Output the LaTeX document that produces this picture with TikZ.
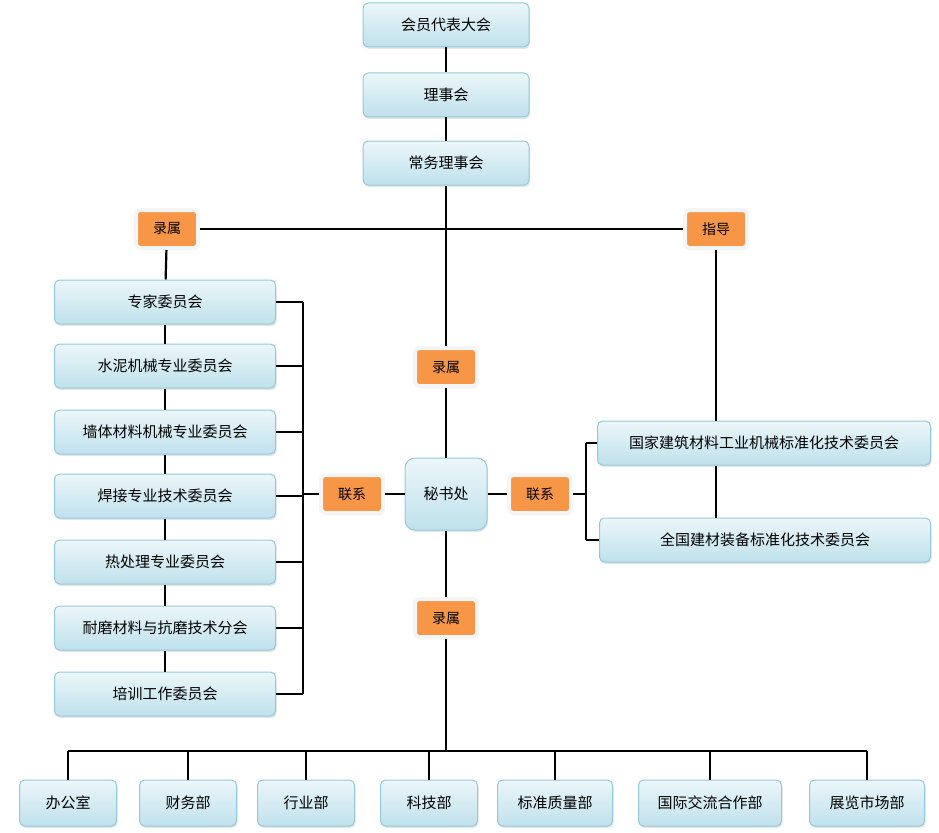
\documentclass[tikz,border=0pt]{standalone}
\usepackage{fontspec}
\setmainfont{Noto Sans CJK SC}
\usetikzlibrary{shadows}
\definecolor{boxedge}{HTML}{93C9DA}
\definecolor{boxfill}{HTML}{BFE1EC}
\definecolor{tagfill}{HTML}{F79646}
\tikzset{
  unit/.style={draw=boxedge, line width=1pt, rounded corners=5pt, top color=white!70!boxfill, bottom color=boxfill,
    minimum height=44, inner sep=0, font=\fontsize{15}{17}\selectfont,
    drop shadow={shadow xshift=1pt, shadow yshift=-2pt, fill=gray!40}},
  tag/.style={draw=gray!8, line width=4pt, rounded corners=4pt, fill=tagfill,
    minimum width=62, minimum height=38, inner sep=0, font=\fontsize{14}{16}\selectfont,
    drop shadow={shadow xshift=1pt, shadow yshift=-2pt, fill=brown!45}},
  link/.style={line width=2.2pt}
}
\begin{document}
\begin{tikzpicture}[x=1pt,y=-1pt]
\useasboundingbox (0,0) rectangle (939,832);
\node (dh) [unit, minimum width=166] at (446,25) {会员代表大会};
\node (lsh) [unit, minimum width=166] at (446,95) {理事会};
\node (cw) [unit, minimum width=166] at (446,163) {常务理事会};
\node (ls1) [tag] at (167,229) {录属};
\node (zd) [tag] at (716,229) {指导};
\node (c1) [unit, minimum width=221] at (165,302) {专家委员会};
\node (c2) [unit, minimum width=221] at (165,366) {水泥机械专业委员会};
\node (c3) [unit, minimum width=221] at (165,432) {墙体材料机械专业委员会};
\node (c4) [unit, minimum width=221] at (165,496) {焊接专业技术委员会};
\node (c5) [unit, minimum width=221] at (165,562) {热处理专业委员会};
\node (c6) [unit, minimum width=221] at (165,628) {耐磨材料与抗磨技术分会};
\node (c7) [unit, minimum width=221] at (165,694) {培训工作委员会};
\node (ls2) [tag] at (446,367) {录属};
\node (msc) [unit, minimum width=82, minimum height=72, rounded corners=10pt] at (446,494) {秘书处};
\node (lx1) [tag] at (352,494) {联系};
\node (lx2) [tag] at (540,494) {联系};
\node (gj) [unit, minimum width=333] at (764,443) {国家建筑材料工业机械标准化技术委员会};
\node (qg) [unit, minimum width=331] at (765,540) {全国建材装备标准化技术委员会};
\node (ls3) [tag] at (446,618) {录属};
\node (d1) [unit, minimum width=97, minimum height=46] at (68,803) {办公室};
\node (d2) [unit, minimum width=97, minimum height=46] at (188,803) {财务部};
\node (d3) [unit, minimum width=97, minimum height=46] at (306,803) {行业部};
\node (d4) [unit, minimum width=97, minimum height=46] at (429,803) {科技部};
\node (d5) [unit, minimum width=115, minimum height=46] at (555,803) {标准质量部};
\node (d6) [unit, minimum width=143, minimum height=46] at (710,803) {国际交流合作部};
\node (d7) [unit, minimum width=115, minimum height=46] at (867,803) {展览市场部};
\coordinate (bus) at (446,751);
\coordinate (lb) at (303,494);
\coordinate (rb) at (586,494);
\draw[link] (dh) -- (lsh);
\draw[link] (lsh) -- (cw);
\draw[link] (cw) -- (ls2);
\draw[link] (ls2) -- (msc);
\draw[link] (msc) -- (ls3);
\draw[link] (ls3) -- (bus);
\draw[link] (ls1) -- (zd);
\draw[link] (ls1) -- (c1);
\foreach \a/\b in {c1/c2,c2/c3,c3/c4,c4/c5,c5/c6,c6/c7}
  \draw[link] (\a) -- (\b);
\draw[link] (zd) -- (zd |- gj.north);
\draw[link] (zd |- gj.south) -- (zd |- qg.north);
\draw[link] (303,302) -- (303,694);
\foreach \c in {c1,c2,c3,c4,c5,c6,c7}
  \draw[link] (\c) -- (\c -| lb);
\draw[link] (lb) -- (lx1);
\draw[link] (lx1) -- (msc);
\draw[link] (msc) -- (lx2);
\draw[link] (lx2) -- (rb);
\draw[link] (586,443) -- (586,540);
\draw[link] (gj -| rb) -- (gj);
\draw[link] (qg -| rb) -- (qg);
\draw[link] (68,751) -- (867,751);
\foreach \d in {d1,d2,d3,d4,d5,d6,d7}
  \draw[link] (\d |- bus) -- (\d);
\end{tikzpicture}
\end{document}
